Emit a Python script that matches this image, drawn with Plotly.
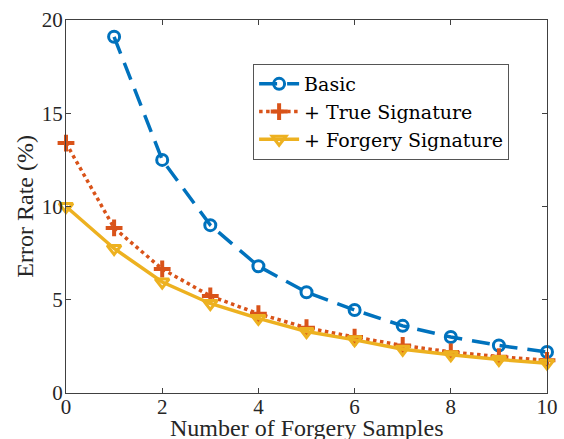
import plotly.graph_objects as go

x_vals = [0, 1, 2, 3, 4, 5, 6, 7, 8, 9, 10]
basic_x = [1, 2, 3, 4, 5, 6, 7, 8, 9, 10]
basic = [19.1, 12.5, 9.0, 6.8, 5.4, 4.45, 3.6, 3.0, 2.55, 2.2]
true_sig = [13.4, 8.85, 6.65, 5.2, 4.25, 3.5, 3.0, 2.55, 2.2, 1.95, 1.75]
forgery_sig = [10.0, 7.75, 5.95, 4.8, 4.0, 3.3, 2.85, 2.35, 2.05, 1.8, 1.6]
x_title = "Number of Forgery Samples"
y_title = "Error Rate (%)"

FONT = "Times New Roman"
LEGFONT = "DejaVu Serif"
fig = go.Figure()
fig.add_trace(go.Scatter(x=basic_x, y=basic, name="Basic", mode="lines+markers", cliponaxis=False,
                         line=dict(color="#0072BD", width=3.5, dash="18px,10px"),
                         marker=dict(symbol="circle-open", size=11, line=dict(width=3, color="#0072BD"))))
fig.add_trace(go.Scatter(x=x_vals, y=true_sig, name="+ True Signature", mode="lines+markers", cliponaxis=False,
                         line=dict(color="#D95319", width=3.5, dash="dot"),
                         marker=dict(symbol="cross-thin-open", size=12, line=dict(width=4, color="#D95319"))))
fig.add_trace(go.Scatter(x=x_vals, y=forgery_sig, name="+ Forgery Signature", mode="lines+markers", cliponaxis=False,
                         line=dict(color="#EDB120", width=3.5),
                         marker=dict(symbol="triangle-down-open", size=12, line=dict(width=3, color="#EDB120"))))

axis_common = dict(showline=True, linecolor="#404040", linewidth=1, mirror="ticks",
                   ticks="inside", ticklen=5, tickcolor="#404040", showgrid=False, zeroline=False,
                   automargin=False,
                   tickfont=dict(family=FONT, size=21, color="#262626"))
fig.update_layout(
    width=564, height=439,
    font=dict(family=FONT, color="#262626"),
    margin=dict(l=66, r=17, t=20, b=46),
    plot_bgcolor="white", paper_bgcolor="white",
    xaxis=dict(range=[0, 10], tickvals=[0, 2, 4, 6, 8, 10], ticklabelstandoff=-5, **axis_common),
    yaxis=dict(range=[0, 20], tickvals=[0, 5, 10, 15, 20], ticklabelstandoff=-2, **axis_common),
    legend=dict(x=0.389, y=0.882, xanchor="left", yanchor="top",
                bordercolor="#555555", borderwidth=1, bgcolor="white",
                font=dict(family=LEGFONT, size=19, color="#000000"),
                itemwidth=40, tracegroupgap=0),
    showlegend=True,
    annotations=[
        dict(text=x_title, xref="paper", yref="paper", x=0.5, y=-0.0925, xanchor="center", yanchor="middle",
             showarrow=False, font=dict(family=FONT, size=24, color="#262626")),
        dict(text=y_title, xref="paper", yref="paper", x=-0.087, y=0.5, xanchor="center", yanchor="middle",
             textangle=-90, showarrow=False, font=dict(family=FONT, size=24, color="#262626")),
    ],
)
fig.write_html("out.html", config={"displayModeBar": False},
               post_script="document.body.style.margin='0';document.body.style.padding='0';")
